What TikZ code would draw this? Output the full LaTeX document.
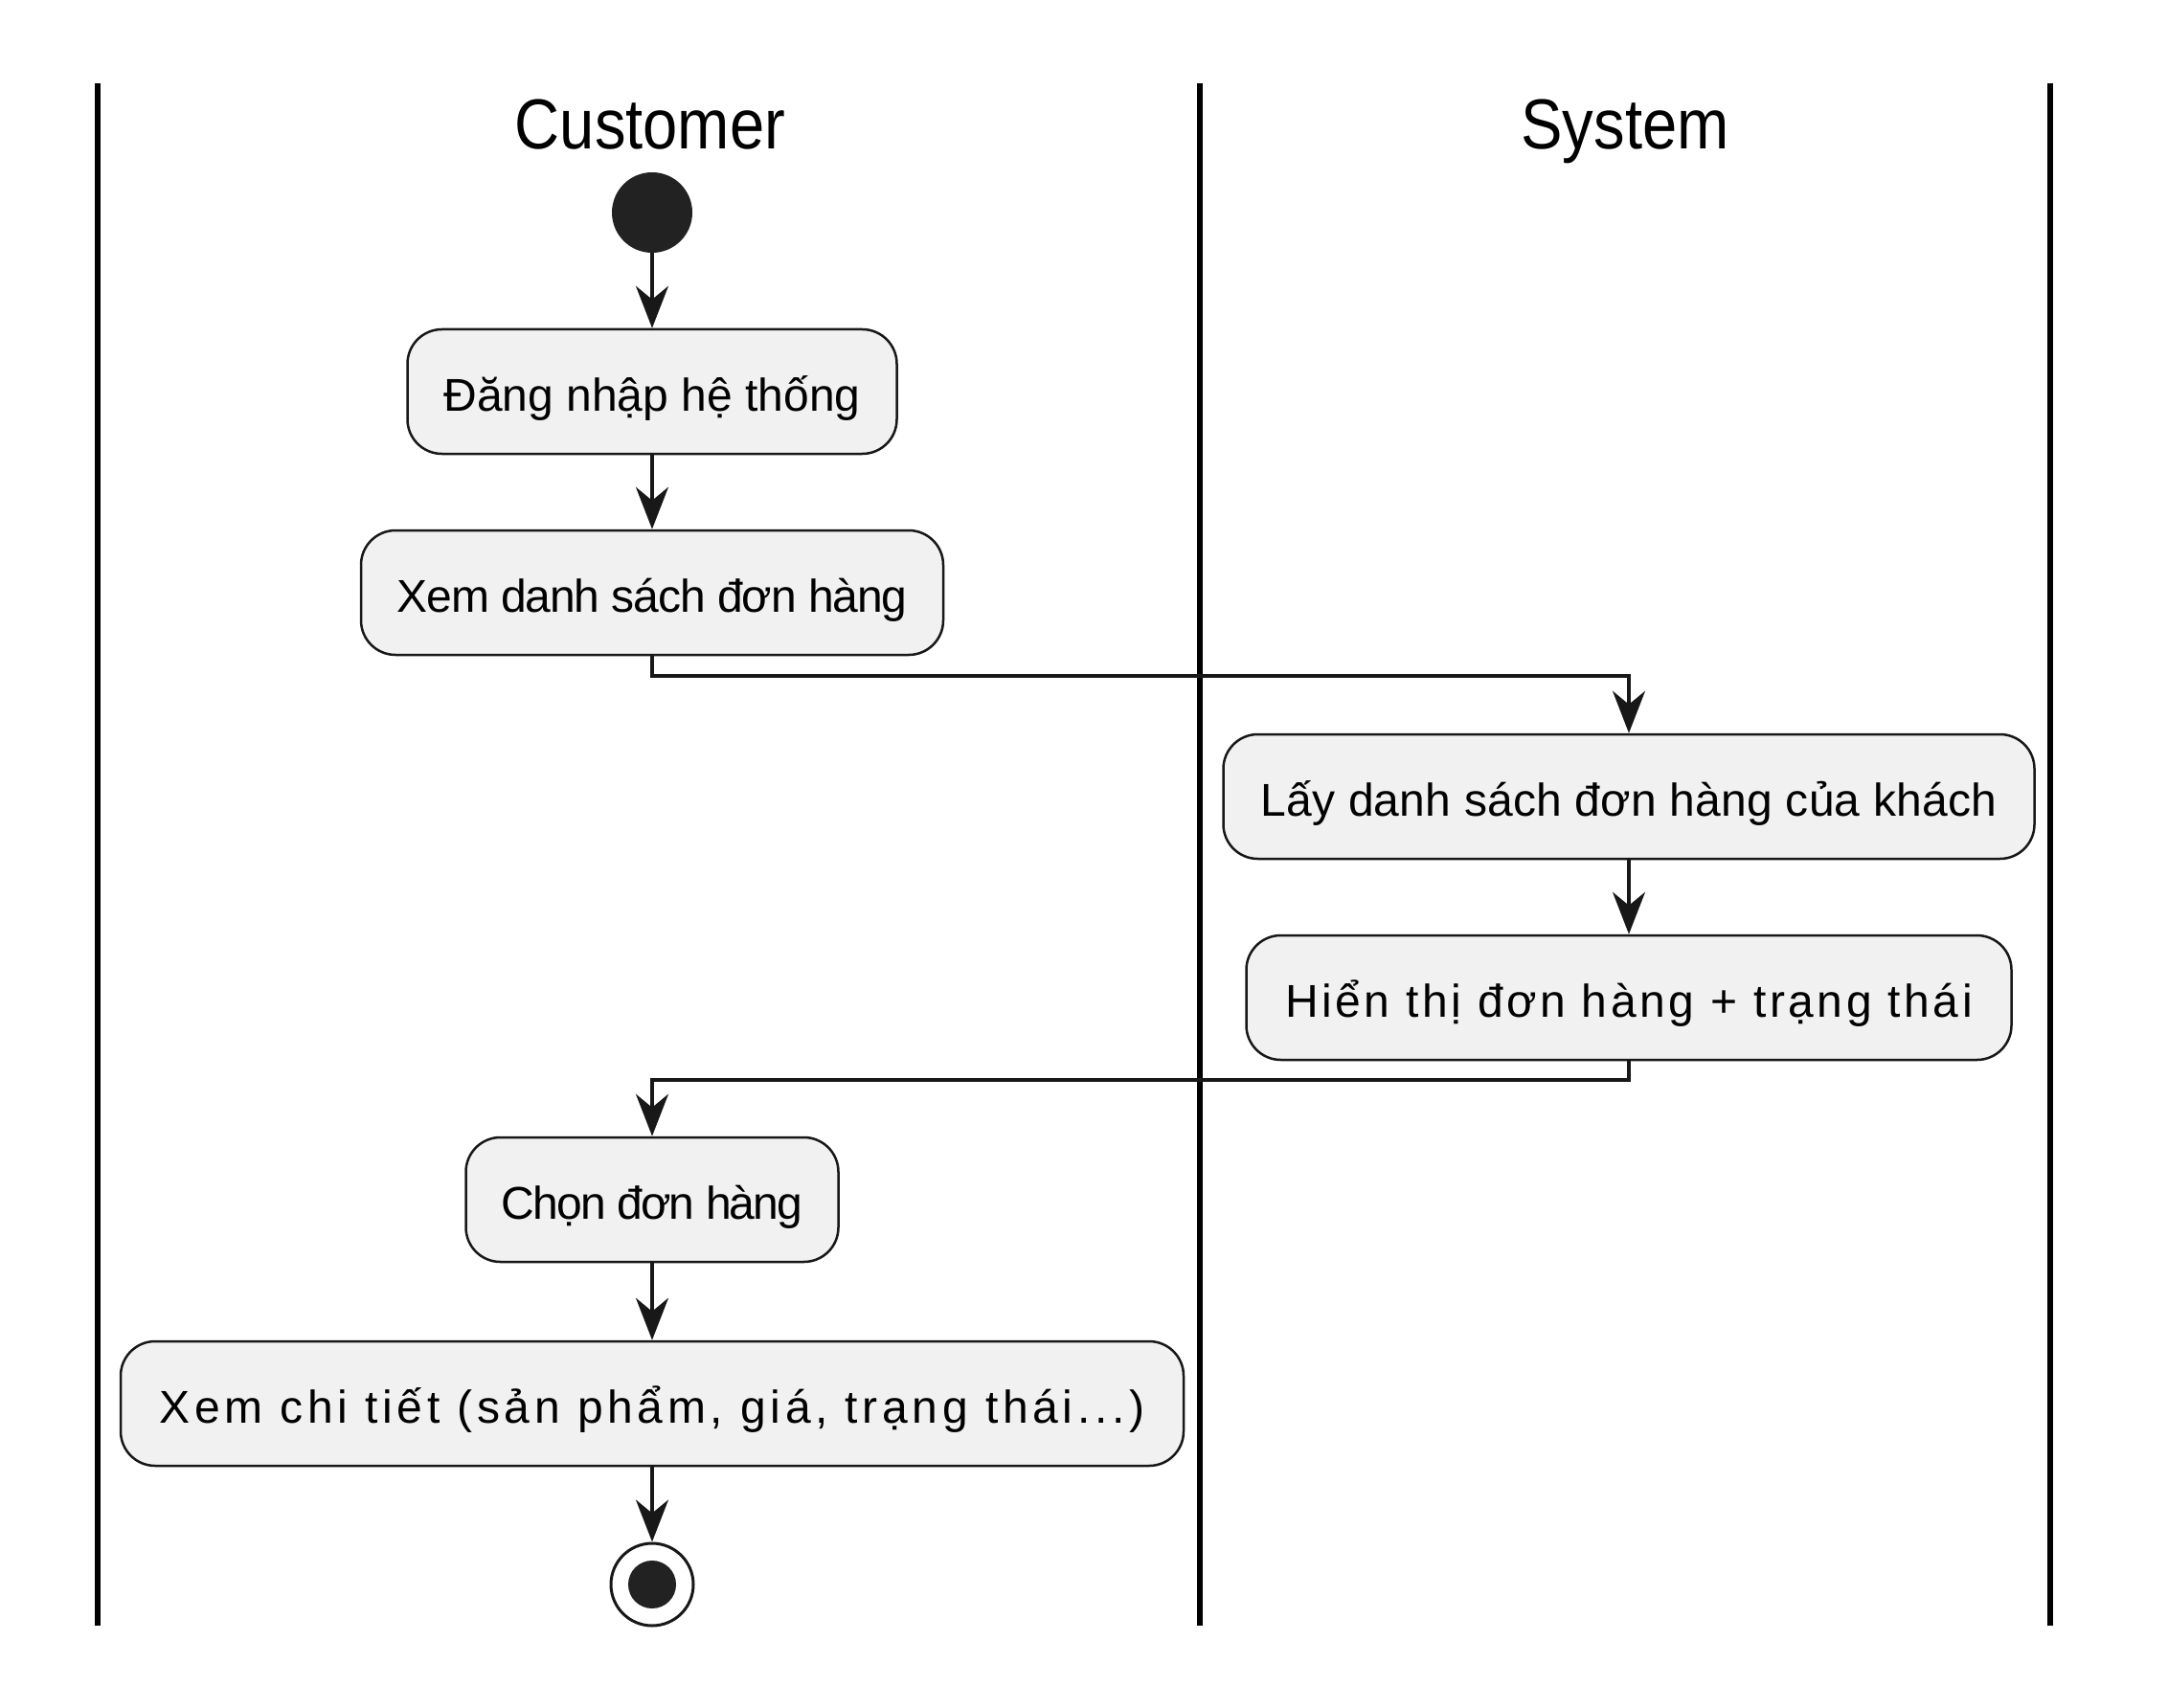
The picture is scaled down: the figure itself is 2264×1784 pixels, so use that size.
\documentclass[tikz,border=0pt]{standalone}
\usepackage{fontspec}
\setmainfont{Liberation Sans}
\newfontfamily\titlefont[FakeStretch=0.88]{Liberation Sans}
\newcommand{\trk}[1]{\addfontfeature{LetterSpace=#1}}
\usetikzlibrary{arrows.meta}
\definecolor{boxfill}{HTML}{F1F1F1}
\definecolor{ink}{HTML}{181818}
\definecolor{dot}{HTML}{222222}
\begin{document}
\begin{tikzpicture}[x=1pt,y=-1pt,
  act/.style={draw=ink, line width=2.5pt, fill=boxfill, rounded corners=36pt,
    minimum height=130pt, inner sep=0pt, text height=40pt, text depth=0pt,
    font=\fontsize{48}{58}\selectfont, text=black},
  flow/.style={draw=ink, line width=3.3pt, -{Stealth[length=44pt,width=34pt,inset=14pt]}},
  lane/.style={line width=6pt, draw=black},
  lanetitle/.style={font=\titlefont\fontsize{74}{88}\selectfont, text=black, anchor=base}]
\useasboundingbox (0,0) rectangle (2264,1784);
% swimlanes
\coordinate (l1t) at (102,87);  \coordinate (l1b) at (102,1698);
\coordinate (l2t) at (1253,87); \coordinate (l2b) at (1253,1698);
\coordinate (l3t) at (2141,87); \coordinate (l3b) at (2141,1698);
\draw[lane] (l1t) -- (l1b);
\draw[lane] (l2t) -- (l2b);
\draw[lane] (l3t) -- (l3b);
\node[lanetitle] (tcust) at (679,156) {Customer};
\node[lanetitle] (tsys) at (1697,156) {System};
% nodes
\node[circle, fill=dot, minimum size=84pt, inner sep=0pt] (start) at (681,222) {};
\node[act, minimum width=511pt] (b1) at (681,409) {Đăng nhập hệ thống};
\node[act, minimum width=608pt] (b2) at (681,619) {\trk{-2.3}Xem danh sách đơn hàng};
\node[act, minimum width=847pt] (b3) at (1701,832) {\trk{0.5}Lấy danh sách đơn hàng của khách};
\node[act, minimum width=799pt] (b4) at (1701,1042) {\trk{7.4}Hiển thị đơn hàng + trạng thái};
\node[act, minimum width=389pt] (b5) at (681,1253) {\trk{-3.8}Chọn đơn hàng};
\node[act, minimum width=1110pt] (b6) at (681,1466) {\trk{9.8}Xem chi tiết (sản phẩm, giá, trạng thái...)};
\node[circle, draw=ink, line width=3pt, fill=white, minimum size=86pt, inner sep=0pt] (end) at (681,1655) {};
\node[circle, fill=dot, minimum size=50pt, inner sep=0pt] (endin) at (end.center) {};
\coordinate (t1) at (681,706);
\coordinate (t2) at (1701,1128);
% connectors
\draw[flow] (start) -- (b1);
\draw[flow] (b1) -- (b2);
\draw[flow] (b2.south) -- (t1) -| (b3.north);
\draw[flow] (b3) -- (b4);
\draw[flow] (b4.south) -- (t2) -| (b5.north);
\draw[flow] (b5) -- (b6);
\draw[flow] (b6) -- (end);
\end{tikzpicture}
\end{document}
